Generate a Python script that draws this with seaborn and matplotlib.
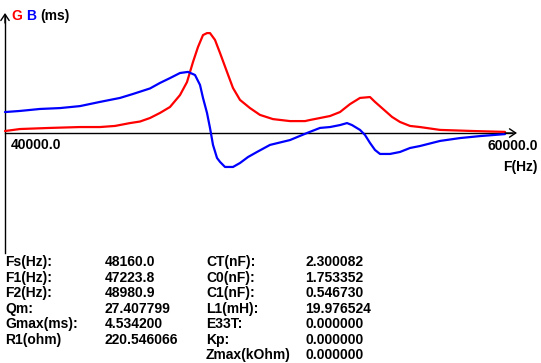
import numpy as np
import pandas as pd
import seaborn as sns
import matplotlib
matplotlib.use('Agg')
import matplotlib.pyplot as plt

# data - konduktance G a susceptance B (ms) podle frekvence
f_g = [40000, 40600, 41800, 43000, 43800, 44400, 45000, 45400, 45800, 46200,
       46600, 47000, 47280, 47520, 47720, 47920, 48080, 48200, 48400, 48600,
       48880, 49120, 49400, 49800, 50200, 50720, 51400, 52000, 52200, 52600,
       53000, 53400, 53800, 54200, 54600, 54800, 55120, 55480, 55800, 56200,
       56600, 57400, 58720, 60000]
g = [0.09, 0.18, 0.23, 0.27, 0.27, 0.32, 0.45, 0.52, 0.68, 0.91,
     1.18, 1.72, 2.31, 3.22, 3.90, 4.44, 4.53, 4.53, 4.22, 3.63,
     2.77, 2.04, 1.50, 1.13, 0.82, 0.63, 0.54, 0.54, 0.59, 0.68,
     0.77, 0.95, 1.31, 1.59, 1.63, 1.41, 1.09, 0.73, 0.50, 0.32,
     0.27, 0.14, 0.09, 0.05]

f_b = [40000, 40600, 41400, 42200, 43000, 43800, 44600, 45120, 45800, 46200,
       46600, 47000, 47320, 47600, 47800, 47920, 48080, 48200, 48320, 48480,
       48600, 48800, 49120, 49400, 49720, 50080, 50600, 51400, 52080, 52600,
       53000, 53400, 53680, 53880, 54200, 54400, 54600, 54800, 55000, 55400,
       55800, 56200, 56600, 57400, 58200, 59000, 60000]
b = [0.95, 1.00, 1.09, 1.13, 1.22, 1.41, 1.59, 1.77, 2.02, 2.27,
     2.49, 2.72, 2.77, 2.63, 2.18, 1.59, 0.91, 0.23, -0.54, -1.13,
     -1.31, -1.54, -1.54, -1.36, -1.09, -0.86, -0.54, -0.32, 0.0, 0.23,
     0.27, 0.36, 0.45, 0.36, 0.14, -0.09, -0.45, -0.77, -0.95, -0.95,
     -0.86, -0.68, -0.59, -0.36, -0.23, -0.14, -0.05]

f_min, f_max = 40000, 60000
gmax = 4.5342
x_ticks = [44000, 48000, 52000, 56000]

# tabulka parametru pod grafem
leve_popisky = ['Fs(Hz):', 'F1(Hz):', 'F2(Hz):', 'Qm:', 'Gmax(ms):', 'R1(ohm)']
leve_hodnoty = ['48160.0', '47223.8', '48980.9', '27.407799', '4.534200', '220.546066']
prave_popisky = ['CT(nF):', 'C0(nF):', 'C1(nF):', 'L1(mH):', 'E33T:', 'Kp:', 'Zmax(kOhm)']
prave_hodnoty = ['2.300082', '1.753352', '0.546730', '19.976524', '0.000000', '0.000000', '0.000000']

sns.set_style('white')
plt.rcParams['font.family'] = ['Liberation Sans', 'DejaVu Sans']
plt.rcParams['font.weight'] = 'bold'

W, H = 541, 363
fig = plt.figure(figsize=(W / 100, H / 100), dpi=100)
ax = fig.add_axes([0, 0, 1, 1])

# 40 Hz na pixel, 100 px = Gmax
sx = 40.0
sy = gmax / 100
ax.set_xlim(f_min - 5 * sx, f_min + (W - 5) * sx)
ax.set_ylim(-(H - 133) * sy, 133 * sy)

data_g = pd.DataFrame({'F': f_g, 'G': g})
data_b = pd.DataFrame({'F': f_b, 'B': b})
sns.lineplot(data=data_g, x='F', y='G', color='#ff0000', lw=1.6, ax=ax)
sns.lineplot(data=data_b, x='F', y='B', color='#0000ff', lw=1.6, ax=ax)

# osy uprostred jako ve starem programu
for s in ['top', 'right']:
    ax.spines[s].set_visible(False)
ax.spines['left'].set_position(('data', f_min))
ax.spines['bottom'].set_position(('data', 0))
ax.spines['left'].set_bounds(-120 * sy, 118 * sy)
ax.spines['bottom'].set_bounds(f_min, f_min + 507 * sx)
for s in ['left', 'bottom']:
    ax.spines[s].set_linewidth(1.0)
    ax.spines[s].set_color('black')
    ax.spines[s].set_zorder(1)

ax.set_xticks(x_ticks)
ax.set_yticks([-gmax, gmax])
ax.tick_params(direction='in', length=4, width=1, color='black',
               labelbottom=False, labelleft=False)
ax.set_xlabel('')
ax.set_ylabel('')

# sipky na koncich os
ax.annotate('', xy=(f_min + 512 * sx, 0), xytext=(f_min + 500 * sx, 0),
            arrowprops=dict(arrowstyle='->,head_length=0.45,head_width=0.3', lw=1, color='black',
                            shrinkA=0, shrinkB=0))
ax.annotate('', xy=(f_min, 120 * sy), xytext=(f_min, 110 * sy),
            arrowprops=dict(arrowstyle='->,head_length=0.45,head_width=0.3', lw=1, color='black',
                            shrinkA=0, shrinkB=0))


def txt(x, y, s, color='black', ha='left'):
    # pozice v pixelech od leveho horniho rohu
    fig.text(x / W, 1 - y / H, s, color=color, ha=ha, va='center',
             fontsize=10, fontweight='bold')


txt(11, 16, 'G', color='#ff0000')
txt(26, 16, 'B', color='#0000ff')
txt(40, 16, '(ms)')
txt(11, 145, '40000.0')
txt(538, 146, '60000.0', ha='right')
txt(538, 167, 'F(Hz)', ha='right')

krok = 15.56
for i in range(len(leve_popisky)):
    txt(5, 262 + i * krok, leve_popisky[i])
    txt(105, 262 + i * krok, leve_hodnoty[i])
for i in range(len(prave_popisky)):
    txt(206, 262 + i * krok, prave_popisky[i])
    txt(305, 262 + i * krok, prave_hodnoty[i])

fig.savefig('out.png', dpi=100)
